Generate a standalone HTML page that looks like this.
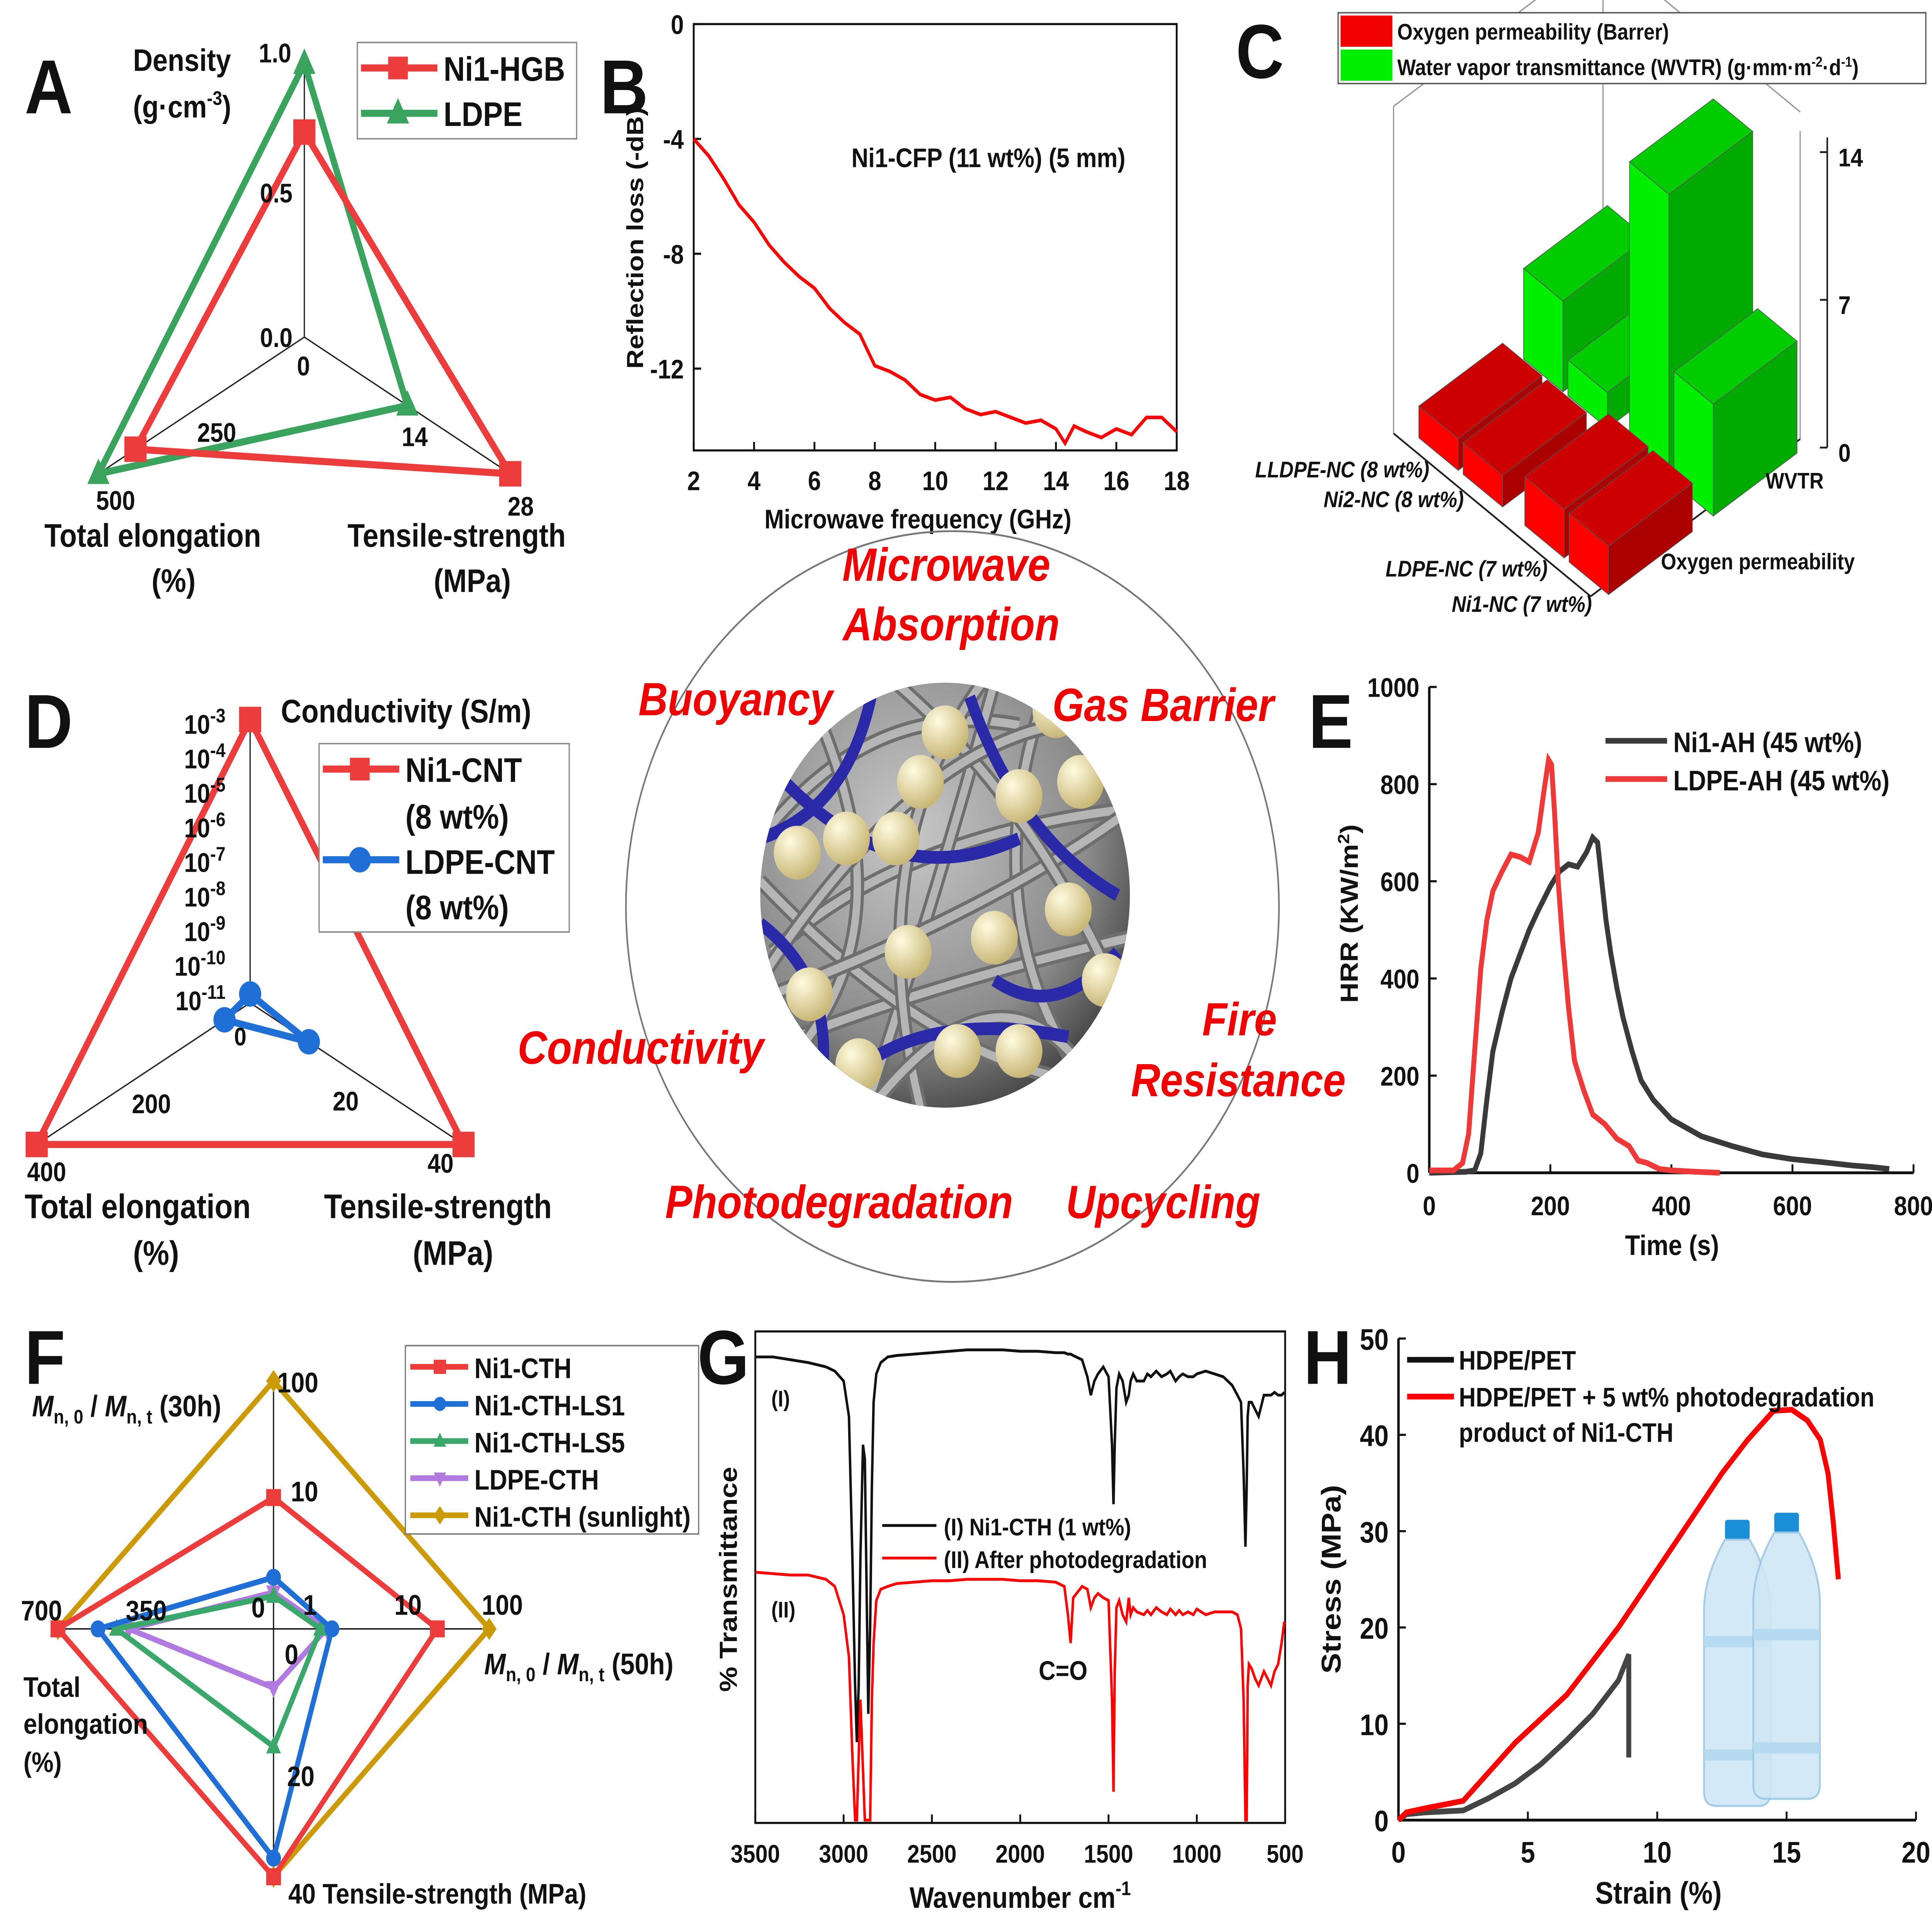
<!DOCTYPE html>
<html><head><meta charset="utf-8"><style>
html,body{margin:0;padding:0;background:#fff;overflow:hidden;width:100vw;height:100vh;}
svg{display:block;width:100vw;height:100vh;}
text{font-family:"Liberation Sans",sans-serif;font-weight:bold;fill:#111;}
.nar{font-family:"Liberation Sans Narrow","Liberation Sans",sans-serif;}
.it{font-style:italic;fill:#f00000;}
</style></head><body>
<svg id="fig" xmlns="http://www.w3.org/2000/svg" viewBox="0 0 1568 1364" preserveAspectRatio="none">
<rect width="1568" height="1364" fill="#fff"/>
<g id="gA"></g>
<g id="gB"></g>
<g id="gC"></g>
<g id="gM"></g>
<g id="gD"></g>
<g id="gE"></g>
<g id="gF"></g>
<g id="gG"></g>
<g id="gH"></g>
</svg>
<script>
// ---------- DATA ----------
// A
const aAxes=["Density","Total elongation","Tensile-strength"];
const aMax=[1.0,500,28];
const aNi1=[0.75,410,28];
const aLDPE=[1.0,500,14];
// B
const bFreq=[2,2.5,3,3.5,4,4.5,5,5.5,6,6.5,7,7.5,8,8.5,9,9.5,10,10.5,11,11.5,12,12.5,13,13.5,14,14.3,14.6,15,15.5,16,16.5,17,17.5,18];
const bRL=[-4,-4.6,-5.4,-6.3,-6.9,-7.7,-8.3,-8.8,-9.2,-9.9,-10.4,-10.8,-11.9,-12.1,-12.4,-12.9,-13.1,-13.0,-13.4,-13.6,-13.5,-13.7,-13.9,-13.8,-14.1,-14.6,-14.0,-14.2,-14.4,-14.1,-14.3,-13.7,-13.7,-14.2];
const bXTicks=[2,4,6,8,10,12,14,16,18];
const bYTicks=[0,-4,-8,-12];
// C
const cCats=["LLDPE-NC (8 wt%)","Ni2-NC  (8 wt%)","LDPE-NC (7 wt%)","Ni1-NC (7 wt%)"];
const cOxy=[1.5,1.5,2.3,2.3];
const cWVTR=[4.3,1.7,13.5,5.3];
// D
const dNi1=[-3,400,40];
const dLDPE=[-10.75,48,11];
// E
const eT1=[0,60,75,85,95,105,120,135,150,165,180,200,215,230,245,260,270,278,285,292,300,310,320,335,350,370,400,450,500,550,600,650,700,730,760];
const eH1=[0,2,5,40,150,250,330,400,450,500,540,590,620,635,630,660,690,680,600,520,450,380,320,250,190,150,110,75,55,38,28,22,15,12,8];
const eT2=[0,40,55,65,75,85,95,105,120,135,150,165,180,190,197,202,207,213,220,230,240,255,270,290,310,330,345,360,380,400,440,480];
const eH2=[5,5,20,80,250,420,520,580,620,655,650,640,700,790,850,840,740,600,480,340,230,170,120,100,70,55,25,20,8,5,2,0];
const eXTicks=[0,200,400,600,800];
const eYTicks=[0,200,400,600,800,1000];
// F  order: Mn30(top), Mn50(right), Tensile(bottom), Elongation(left)
const fSeries=["Ni1-CTH","Ni1-CTH-LS1","Ni1-CTH-LS5","LDPE-CTH","Ni1-CTH (sunlight)"];
const fMn30=[9.5,1.9,1.3,1.4,100];
const fMn50=[30,2.6,2.0,2.3,100];
const fTS=[40,37,19,9.5,40];
const fEL=[700,570,510,470,700];
// G
const gWn=[3500,3400,3300,3200,3100,3050,3000,2970,2950,2935,2925,2915,2905,2890,2880,2870,2860,2850,2840,2830,2815,2790,2750,2700,2600,2500,2400,2300,2200,2100,2000,1900,1800,1750,1730,1715,1700,1650,1620,1600,1580,1560,1530,1500,1480,1472,1465,1455,1440,1420,1400,1385,1375,1360,1340,1300,1280,1260,1230,1200,1170,1150,1120,1100,1080,1050,1020,1000,950,900,850,800,770,750,735,725,718,712,705,690,670,650,620,600,580,560,540,520,505];
const gI=[958,958,960,962,965,968,975,1000,1100,1190,1230,1190,1100,1020,1030,1120,1210,1150,1050,990,970,962,958,957,956,955,954,953,953,953,954,954,955,955,956,956,957,960,972,985,975,970,965,972,1020,1062,1020,980,970,975,990,985,975,970,975,975,970,972,968,972,970,968,975,972,970,972,972,970,968,970,972,978,985,990,1040,1092,1050,1000,990,990,995,1000,985,985,985,983,985,985,983];
const gII=[1110,1111,1112,1112,1115,1120,1140,1170,1240,1285,1285,1240,1200,1250,1285,1285,1285,1285,1200,1160,1130,1122,1120,1118,1117,1116,1116,1115,1115,1115,1116,1116,1117,1120,1140,1160,1128,1120,1122,1135,1128,1125,1128,1130,1200,1265,1180,1135,1130,1140,1145,1128,1140,1135,1138,1140,1137,1140,1135,1138,1140,1136,1140,1137,1140,1138,1140,1136,1140,1138,1138,1138,1140,1150,1200,1285,1285,1190,1175,1178,1185,1190,1180,1185,1190,1180,1175,1160,1145];
const gXTicks=[3500,3000,2500,2000,1500,1000,500];
// H
const hS1=[0,0.3,1,2.5,3.5,4.5,5.5,6.5,7.5,8.5,8.9,8.9];
const hY1=[0,0.6,0.8,1,2.3,3.8,5.8,8.3,11,14.5,17.2,6.5];
const hS2=[0,0.3,1,2.5,3,3.5,4.5,5.5,6.5,7.5,8.5,9.5,10.5,11.5,12.5,13.5,14.5,15.2,15.8,16.3,16.6,16.8,17];
const hY2=[0,0.8,1.2,2,3.5,5,8,10.5,13,16.5,20,24,28,32,36,39.5,42.5,42.6,41.5,39.5,36,31,25];
const hXTicks=[0,5,10,15,20];
const hYTicks=[0,10,20,30,40,50];

// ---------- helpers ----------
const NS="http://www.w3.org/2000/svg";
function mk(tag,parent,attrs){const e=document.createElementNS(NS,tag);for(const k in attrs)e.setAttribute(k,attrs[k]);parent.appendChild(e);return e;}
function txt(parent,x,y,s,size,opt){opt=opt||{};const e=mk('text',parent,{x:x,y:y,'font-size':size,'text-anchor':opt.a||'start'});if(opt.cls)e.setAttribute('class',opt.cls);if(opt.fill)e.style.fill=opt.fill;if(opt.tr)e.setAttribute('transform',opt.tr);e.innerHTML=s;return e;}
function poly(pts){return pts.map(p=>p[0].toFixed(1)+','+p[1].toFixed(1)).join(' ');}
function marker(parent,type,x,y,col,sz){
  let e;
  if(type==='sq')e=mk('rect',parent,{x:x-sz,y:y-sz,width:2*sz,height:2*sz,fill:col});
  else if(type==='ci')e=mk('circle',parent,{cx:x,cy:y,r:sz,fill:col});
  else if(type==='tu')e=mk('polygon',parent,{points:poly([[x,y-sz*1.2],[x-sz,y+sz*0.8],[x+sz,y+sz*0.8]]),fill:col});
  else if(type==='td')e=mk('polygon',parent,{points:poly([[x,y+sz*1.2],[x-sz,y-sz*0.8],[x+sz,y-sz*0.8]]),fill:col});
  else e=mk('polygon',parent,{points:poly([[x,y-sz*1.3],[x+sz,y],[x,y+sz*1.3],[x-sz,y]]),fill:col});
  return e;
}

// ---------- Panel A ----------
(function(){
const g=document.getElementById('gA');
const cx=247,cy=238,R=193;const ang=[-90,150,30];
function pt(i,v){const r=R*v/aMax[i];const a=ang[i]*Math.PI/180;return [cx+r*Math.cos(a),cy+r*Math.sin(a)];}
for(let i=0;i<3;i++){const p=pt(i,aMax[i]*0.999);const ax=mk('line',g,{x1:cx,y1:cy,x2:p[0],y2:p[1],stroke:'#222','stroke-width':1});
}
function series(vals,col,m,name){const pts=vals.map((v,i)=>pt(i,v));const pl=mk('polygon',g,{points:poly(pts),fill:'none',stroke:col,'stroke-width':5});

pts.forEach(p=>{const mm=marker(g,m,p[0],p[1],col,9);});}
series(aLDPE,'#3aa45e','tu','ldpe');
series(aNi1,'#ec3c3c','sq','ni1-hgb');
txt(g,20,80,'A',54);
txt(g,108,50,'Density',22);txt(g,108,83,'(g·cm<tspan dy="-9" font-size="14">-3</tspan><tspan dy="9">)</tspan>',22);
txt(g,210,44,'1.0',19);txt(g,211,143,'0.5',19);txt(g,211,245,'0.0',19);txt(g,241,265,'0',19);
txt(g,160,312,'250',19);txt(g,78,360,'500',19);txt(g,326,315,'14',19);txt(g,412,364,'28',19);
txt(g,36,386,'Total elongation',23);txt(g,123,418,'(%)',23);
txt(g,282,386,'Tensile-strength',23);txt(g,352,418,'(MPa)',23);
const lg=mk('rect',g,{x:290,y:30,width:178,height:68,fill:'#fff',stroke:'#888','stroke-width':1});

mk('line',g,{x1:293,y1:48,x2:355,y2:48,stroke:'#ec3c3c','stroke-width':5});marker(g,'sq',323,48,'#ec3c3c',8);
mk('line',g,{x1:293,y1:80,x2:355,y2:80,stroke:'#3aa45e','stroke-width':5});marker(g,'tu',323,80,'#3aa45e',9);
txt(g,360,57,'Ni1-HGB',24);txt(g,360,89,'LDPE',24);
})();

// ---------- Panel B ----------
(function(){
const g=document.getElementById('gB');
const x0=563,x1=955,y0=17,y1=318;
const X=v=>x0+(v-2)/16*(x1-x0);const Y=v=>y0+(-v)/14.85*(y1-y0);
const fr=mk('rect',g,{x:x0,y:y0,width:x1-x0,height:y1-y0,fill:'none',stroke:'#111','stroke-width':1.5});

bXTicks.forEach(t=>{mk('line',g,{x1:X(t),y1:y1,x2:X(t),y2:y1-6,stroke:'#111','stroke-width':1.5});txt(g,X(t),346,t,19,{a:'middle'});});
bYTicks.forEach(t=>{mk('line',g,{x1:x0,y1:Y(t),x2:x0+6,y2:Y(t),stroke:'#111','stroke-width':1.5});txt(g,x0-8,Y(t)+7,t,19,{a:'end'});});
const d=bFreq.map((f,i)=>(i?'L':'M')+X(f).toFixed(1)+','+Y(bRL[i]).toFixed(1)).join('');
const p=mk('path',g,{d:d,fill:'none',stroke:'#f00','stroke-width':2.5});

txt(g,487,80,'B',54);
txt(g,691,118,'Ni1-CFP (11 wt%) (5 mm)',19);
txt(g,745,373,'Microwave frequency (GHz)',19,{a:'middle'});
txt(g,522,168,'Reflection loss (-dB)',19,{a:'middle',tr:'rotate(-90 522 168)'});
})();

// ---------- Panel C ----------
(function(){
const g=document.getElementById('gC');
const L=[1131,306];const vc=[40,28.75],vs=[85,-55.5],vh=[0,-14.9];
const P=(c,s,h)=>[L[0]+c*vc[0]+s*vs[0]+h*vh[0],L[1]+c*vc[1]+s*vs[1]+h*vh[1]];
const ln=(a,b)=>mk('line',g,{x1:a[0],y1:a[1],x2:b[0],y2:b[1],stroke:'#999','stroke-width':1});
ln(P(0,0,0),P(0,0,15.5));ln(P(0,2,0),P(0,2,15.5));ln(P(4,2,0),P(4,2,14.6));
ln(P(0,0,15.5),P(0,2,15.5));ln(P(0,2,15.5),P(4,2,15.5));
mk('line',g,{x1:P(0,0,0)[0],y1:P(0,0,0)[1],x2:P(4,0,0)[0],y2:P(4,0,0)[1],stroke:'#222','stroke-width':1.3});
mk('line',g,{x1:P(4,0,0)[0],y1:P(4,0,0)[1],x2:P(4,2,0)[0],y2:P(4,2,0)[1],stroke:'#222','stroke-width':1.3});
mk('line',g,{x1:1483,y1:316,x2:1483,y2:97,stroke:'#222','stroke-width':1.3});
[[0,'0'],[7,'7'],[14,'14']].forEach(t=>{const y=316-t[0]*14.9;mk('line',g,{x1:1477,y1:y,x2:1483,y2:y,stroke:'#222','stroke-width':1.3});txt(g,1492,y+10,t[1],18,{cls:'nar'});});
const cpos=[0.3,1.2,2.45,3.35];
function bar(c,s,h,col,name){
  const w=0.8,sw=0.8;
  const top=[P(c,s,h),P(c+w,s,h),P(c+w,s+sw,h),P(c,s+sw,h)];
  const front=[P(c+w,s,0),P(c+w,s+sw,0),P(c+w,s+sw,h),P(c+w,s,h)];
  const side=[P(c,s,0),P(c+w,s,0),P(c+w,s,h),P(c,s,h)];
  const gb=mk('g',g,{});
  
  mk('polygon',gb,{points:poly(side),fill:col[0],stroke:'#555','stroke-width':0.5});
  mk('polygon',gb,{points:poly(front),fill:col[1],stroke:'#555','stroke-width':0.5});
  mk('polygon',gb,{points:poly(top),fill:col[2],stroke:'#555','stroke-width':0.5});
}
for(let i=0;i<4;i++)bar(cpos[i],1.1,cWVTR[i],['#00ee00','#00aa00','#00cc00'],'wvtr-bar-'+i);
for(let i=0;i<4;i++)bar(cpos[i],0.1,cOxy[i],['#ff0000','#aa0000','#cc0000'],'oxygen-bar-'+i);
const lab=[[1160,337],[1188,358],[1256,407],[1292,432]];
cCats.forEach((c,i)=>txt(g,lab[i][0],lab[i][1],c,16,{a:'end',cls:'it',fill:'#111'}));
txt(g,1433,345,'WVTR',16,{fill:'#111'});txt(g,1348,402,'Oxygen permeability',16);
txt(g,1003,55,'C',54);
const lg=mk('rect',g,{x:1086,y:9,width:477,height:50,fill:'#fff',stroke:'#555','stroke-width':1});

mk('rect',g,{x:1088,y:11,width:42,height:22,fill:'#f00000'});mk('rect',g,{x:1088,y:35,width:42,height:22,fill:'#00ee00'});
txt(g,1134,28,'Oxygen permeability (Barrer)',16,{cls:'nar'});
txt(g,1134,53,'Water vapor transmittance (WVTR) (g·mm·m<tspan dy="-6" font-size="10">-2</tspan><tspan dy="6">·d</tspan><tspan dy="-6" font-size="10">-1</tspan><tspan dy="6">)</tspan>',16,{cls:'nar'});
})();

// ---------- Center ----------
(function(){
const g=document.getElementById('gM');
const c=mk('circle',g,{cx:773,cy:640,r:265,fill:'none',stroke:'#777','stroke-width':1.3});

const cx=767,cy=632,R=150;
const defs=mk('defs',g,{});const rg=mk('radialGradient',defs,{id:'sph',cx:'0.4',cy:'0.35',r:'0.7'});
mk('stop',rg,{offset:'0','stop-color':'#c8c8c8'});mk('stop',rg,{offset:'0.7','stop-color':'#8a8a8a'});mk('stop',rg,{offset:'1','stop-color':'#444'});
const yg=mk('radialGradient',defs,{id:'ball',cx:'0.35',cy:'0.3',r:'0.7'});
mk('stop',yg,{offset:'0','stop-color':'#fffbe0'});mk('stop',yg,{offset:'1','stop-color':'#c9b878'});
const sp=mk('circle',g,{cx:cx,cy:cy,r:R,fill:'url(#sph)'});

const cp=mk('clipPath',defs,{id:'spc'});mk('circle',cp,{cx:cx,cy:cy,r:R});
const gg=mk('g',g,{'clip-path':'url(#spc)'});
const fib=[[-150,-40,-60,-140,60,-120],[-140,40,-40,-40,140,-60],[-120,100,0,60,150,30],[-60,140,0,-20,40,-150],[-150,-10,-20,110,100,130],[80,-140,20,20,120,140],[-100,-120,-30,30,-130,120],[30,-150,-70,-30,-20,150],[150,-60,40,10,-140,70],[-40,-150,80,-60,150,90],[-150,60,-30,-100,90,-120],[110,120,40,40,-60,150]];
const blue=[[-130,-80,-40,0,60,-40],[-80,130,-20,80,100,100],[20,-140,60,-40,140,0],[-150,20,-90,60,-100,130],[40,60,90,90,140,40],[-60,-140,-80,-60,-150,-40]];
fib.forEach((f,i)=>{mk('path',gg,{d:`M${cx+f[0]},${cy+f[1]} Q${cx+f[2]},${cy+f[3]} ${cx+f[4]},${cy+f[5]}`,fill:'none',stroke:'#6e6e6e','stroke-width':11});mk('path',gg,{d:`M${cx+f[0]},${cy+f[1]} Q${cx+f[2]},${cy+f[3]} ${cx+f[4]},${cy+f[5]}`,fill:'none',stroke:'#b5b5b5','stroke-width':6});});
blue.forEach(f=>mk('path',gg,{d:`M${cx+f[0]},${cy+f[1]} Q${cx+f[2]},${cy+f[3]} ${cx+f[4]},${cy+f[5]}`,fill:'none',stroke:'#2a2aa8','stroke-width':9}));
const balls=[[-80,-40],[0,-115],[-40,-40],[60,-70],[-30,40],[40,30],[100,10],[-110,70],[10,110],[110,-80],[-120,-30],[60,110],[-70,120],[130,60],[-20,-80],[90,-130]];
balls.forEach(b=>mk('circle',gg,{cx:cx+b[0],cy:cy+b[1],r:19,fill:'url(#ball)'}));
const L=[['Microwave',768,410],['Absorption',772,452],['Buoyancy',597,505],['Gas Barrier',944,509],['Fire',1006,731],['Resistance',1005,774],['Conductivity',520,751],['Photodegradation',681,860],['Upcycling',944,860]];
L.forEach(l=>{const t=txt(g,l[1],l[2],l[0],33,{a:'middle',cls:'it'});});
})();

// ---------- Panel D ----------
(function(){
const g=document.getElementById('gD');
const cx=203,cy=708,R=200;const ang=[-90,150,30];
const sc=[v=>(v+11)/8,v=>v/400,v=>v/40];
function pt(i,v){const r=R*sc[i](v);const a=ang[i]*Math.PI/180;return [cx+r*Math.cos(a),cy+r*Math.sin(a)];}
for(let i=0;i<3;i++){const p=pt(i,[-3,400,40][i]);mk('line',g,{x1:cx,y1:cy,x2:p[0],y2:p[1],stroke:'#222','stroke-width':1});}
function series(vals,col,m,name){const pts=vals.map((v,i)=>pt(i,v));const pl=mk('polygon',g,{points:poly(pts),fill:'none',stroke:col,'stroke-width':5});

pts.forEach(p=>{const mm=marker(g,m,p[0],p[1],col,9);});}
series(dNi1,'#ec3c3c','sq','ni1-cnt');
series(dLDPE,'#1f6fd6','ci','ldpe-cnt');
txt(g,20,528,'D',54);
for(let k=3;k<=11;k++){const y=511+(k-3)*24.4;txt(g,183,y+7,'10<tspan dy="-8" font-size="14">-'+k+'</tspan>',19,{a:'end'});}
txt(g,228,510,'Conductivity (S/m)',23);
txt(g,190,738,'0',18);txt(g,107,786,'200',19);txt(g,270,784,'20',19);txt(g,22,834,'400',19);txt(g,347,828,'40',19);
txt(g,20,860,'Total elongation',24);txt(g,108,893,'(%)',24);
txt(g,263,860,'Tensile-strength',24);txt(g,335,893,'(MPa)',24);
const lg=mk('rect',g,{x:259,y:525,width:203,height:133,fill:'#fff',stroke:'#888','stroke-width':1});

mk('line',g,{x1:262,y1:543,x2:324,y2:543,stroke:'#ec3c3c','stroke-width':5});marker(g,'sq',292,543,'#ec3c3c',8);
mk('line',g,{x1:262,y1:607,x2:324,y2:607,stroke:'#1f6fd6','stroke-width':5});marker(g,'ci',292,607,'#1f6fd6',9);
txt(g,329,552,'Ni1-CNT',24);txt(g,329,585,'(8 wt%)',24);txt(g,329,617,'LDPE-CNT',24);txt(g,329,649,'(8 wt%)',24);
})();

// ---------- Panel E ----------
(function(){
const g=document.getElementById('gE');
const x0=1160,x1=1553,y0=485,y1=828;
const X=v=>x0+v/800*(x1-x0),Y=v=>y1-v/1000*(y1-y0);
mk('line',g,{x1:x0,y1:y0,x2:x0,y2:y1,stroke:'#111','stroke-width':2});
mk('line',g,{x1:x0,y1:y1,x2:x1,y2:y1,stroke:'#111','stroke-width':2});
eXTicks.forEach(t=>{mk('line',g,{x1:X(t),y1:y1,x2:X(t),y2:y1-6,stroke:'#111','stroke-width':1.5});txt(g,X(t),858,t,19,{a:'middle'});});
eYTicks.forEach(t=>{mk('line',g,{x1:x0,y1:Y(t),x2:x0+6,y2:Y(t),stroke:'#111','stroke-width':1.5});txt(g,x0-8,Y(t)+7,t,19,{a:'end'});});
const pth=(T,H)=>T.map((t,i)=>(i?'L':'M')+X(t).toFixed(1)+','+Y(H[i]).toFixed(1)).join('');
const p1=mk('path',g,{d:pth(eT1,eH1),fill:'none',stroke:'#3a3a3a','stroke-width':4});

const p2=mk('path',g,{d:pth(eT2,eH2),fill:'none',stroke:'#ef3838','stroke-width':4});

txt(g,1062,528,'E',54);
mk('line',g,{x1:1303,y1:523,x2:1353,y2:523,stroke:'#3a3a3a','stroke-width':4});
mk('line',g,{x1:1303,y1:550,x2:1353,y2:550,stroke:'#ef3838','stroke-width':4});
txt(g,1358,531,'Ni1-AH (45 wt%)',20);txt(g,1358,558,'LDPE-AH (45 wt%)',20);
txt(g,1357,886,'Time (s)',20,{a:'middle'});
txt(g,1102,645,'HRR (KW/m<tspan dy="-7" font-size="13">2</tspan><tspan dy="7">)</tspan>',20,{a:'middle',tr:'rotate(-90 1102 645)'});
})();

// ---------- Panel F ----------
(function(){
const g=document.getElementById('gF');
const cx=222,cy=1150;
const rLog=v=>Math.max(0,14+80.5*Math.log10(v));
const pts=i=>[[cx,cy-rLog(fMn30[i])],[cx+rLog(fMn50[i]),cy],[cx,cy+175*fTS[i]/40],[cx-175*fEL[i]/700,cy]];
mk('line',g,{x1:cx,y1:970,x2:cx,y2:1328,stroke:'#111','stroke-width':1});
mk('line',g,{x1:44,y1:cy,x2:400,y2:cy,stroke:'#111','stroke-width':1});
const cols=['#ec3c3c','#1f6fd6','#3aa86a','#b07ae0','#cc9a06'];const mks=['sq','ci','tu','td','di'];
const order=[4,0,3,2,1];
order.forEach(i=>{const p=pts(i);const pl=mk('polygon',g,{points:poly(p),fill:'none',stroke:cols[i],'stroke-width':4});

p.forEach(q=>{const mm=marker(g,mks[i],q[0],q[1],cols[i],6);});});
txt(g,20,977,'F',54);
txt(g,225,983,'100',20,{cls:'nar'});txt(g,236,1060,'10',20,{cls:'nar'});txt(g,246,1140,'1',20,{cls:'nar'});txt(g,204,1142,'0',20,{cls:'nar'});
txt(g,320,1140,'10',20,{cls:'nar'});txt(g,391,1140,'100',20,{cls:'nar'});
txt(g,17,1144,'700',20,{cls:'nar'});txt(g,102,1144,'350',20,{cls:'nar'});
txt(g,231,1175,'0',20,{cls:'nar'});txt(g,233,1261,'20',20,{cls:'nar'});
txt(g,234,1344,'40  Tensile-strength (MPa)',20,{cls:'nar'});
txt(g,26,1000,'<tspan font-style="italic">M</tspan><tspan dy="5" font-size="14">n, 0</tspan><tspan dy="-5"> / </tspan><tspan font-style="italic">M</tspan><tspan dy="5" font-size="14">n, t</tspan><tspan dy="-5"> (30h)</tspan>',21,{cls:'nar'});
txt(g,393,1182,'<tspan font-style="italic">M</tspan><tspan dy="5" font-size="14">n, 0</tspan><tspan dy="-5"> / </tspan><tspan font-style="italic">M</tspan><tspan dy="5" font-size="14">n, t</tspan><tspan dy="-5"> (50h)</tspan>',21,{cls:'nar'});
txt(g,19,1198,'Total',20,{cls:'nar'});txt(g,19,1224,'elongation',20,{cls:'nar'});txt(g,19,1251,'(%)',20,{cls:'nar'});
const lg=mk('rect',g,{x:329,y:950,width:238,height:133,fill:'#fff',stroke:'#777','stroke-width':1});

fSeries.forEach((s,i)=>{const y=965+i*26.2;mk('line',g,{x1:333,y1:y,x2:380,y2:y,stroke:cols[i],'stroke-width':4});marker(g,mks[i],357,y,cols[i],5);txt(g,385,y+8,s,20,{cls:'nar'});});
})();

// ---------- Panel G ----------
(function(){
const g=document.getElementById('gG');
const x0=613,x1=1043,y0=940,y1=1287;
const X=v=>x0+(3500-v)/3000*(x1-x0);
mk('rect',g,{x:x0,y:y0,width:x1-x0,height:y1-y0,fill:'none',stroke:'#111','stroke-width':1.5});
gXTicks.forEach(t=>{mk('line',g,{x1:X(t),y1:y1,x2:X(t),y2:y1-6,stroke:'#111','stroke-width':1.5});txt(g,X(t),1315,t,18,{a:'middle'});});
const pth=A=>gWn.map((w,i)=>(i?'L':'M')+X(w).toFixed(1)+','+A[i].toFixed(1)).join('');
const p1=mk('path',g,{d:pth(gI),fill:'none',stroke:'#111','stroke-width':2});

const p2=mk('path',g,{d:pth(gII),fill:'none',stroke:'#f00','stroke-width':2});

txt(g,566,977,'G',54);
txt(g,626,993,'(I)',16);txt(g,626,1142,'(II)',16);
mk('line',g,{x1:716,y1:1077,x2:760,y2:1077,stroke:'#111','stroke-width':2});
mk('line',g,{x1:716,y1:1100,x2:760,y2:1100,stroke:'#f00','stroke-width':2});
txt(g,766,1084,'(I) Ni1-CTH (1 wt%)',17);txt(g,766,1107,'(II) After photodegradation',17);
txt(g,843,1186,'C=O',19);
txt(g,828,1347,'Wavenumber cm<tspan dy="-9" font-size="14">-1</tspan>',21,{a:'middle'});
txt(g,598,1115,'% Transmittance',20,{a:'middle',tr:'rotate(-90 598 1115)'});
})();

// ---------- Panel H ----------
(function(){
const g=document.getElementById('gH');
const x0=1135,x1=1555,y0=945,y1=1285;
const X=v=>x0+v/20*(x1-x0),Y=v=>y1-v/50*(y1-y0);
mk('line',g,{x1:x0,y1:y0,x2:x0,y2:y1,stroke:'#111','stroke-width':2});
mk('line',g,{x1:x0,y1:y1,x2:x1,y2:y1,stroke:'#111','stroke-width':2});
hXTicks.forEach(t=>{mk('line',g,{x1:X(t),y1:y1,x2:X(t),y2:y1-6,stroke:'#111','stroke-width':1.5});txt(g,X(t),1315,t,21,{a:'middle'});});
hYTicks.forEach(t=>{mk('line',g,{x1:x0,y1:Y(t),x2:x0+6,y2:Y(t),stroke:'#111','stroke-width':1.5});txt(g,x0-8,Y(t)+8,t,21,{a:'end'});});
const bt=mk('g',g,{});
[[1410,1085],[1450,1080]].forEach(b=>{const x=b[0],y=b[1];
mk('rect',bt,{x:x-10,y:y-12,width:20,height:14,fill:'#1a8fd8',rx:2});
mk('path',bt,{d:`M${x-10},${y+2} L${x+10},${y+2} Q${x+28},${y+30} ${x+27},${y+55} L${x+27},${y+180} Q${x+27},${y+190} ${x+17},${y+190} L${x-17},${y+190} Q${x-27},${y+190} ${x-27},${y+180} L${x-27},${y+55} Q${x-28},${y+30} ${x-10},${y+2}Z`,fill:'#cfe7f5',stroke:'#9cc8e6','stroke-width':1.5,opacity:0.9});
mk('rect',bt,{x:x-27,y:y+70,width:54,height:8,fill:'#b6dbf0'});mk('rect',bt,{x:x-27,y:y+150,width:54,height:8,fill:'#b6dbf0'});});
const pth=(S,V)=>S.map((s,i)=>(i?'L':'M')+X(s).toFixed(1)+','+Y(V[i]).toFixed(1)).join('');
const p1=mk('path',g,{d:pth(hS1,hY1),fill:'none',stroke:'#444','stroke-width':4});

const p2=mk('path',g,{d:pth(hS2,hY2),fill:'none',stroke:'#f00','stroke-width':4});

txt(g,1058,977,'H',54);
mk('line',g,{x1:1142,y1:960,x2:1180,y2:960,stroke:'#111','stroke-width':4});
mk('line',g,{x1:1142,y1:986,x2:1180,y2:986,stroke:'#f00','stroke-width':4});
txt(g,1184,967,'HDPE/PET',19);txt(g,1184,993,'HDPE/PET + 5 wt% photodegradation',19);txt(g,1184,1018,'product of Ni1-CTH',19);
txt(g,1346,1344,'Strain (%)',22,{a:'middle'});
txt(g,1088,1115,'Stress (MPa)',22,{a:'middle',tr:'rotate(-90 1088 1115)'});
})();
</script>
</body></html>
